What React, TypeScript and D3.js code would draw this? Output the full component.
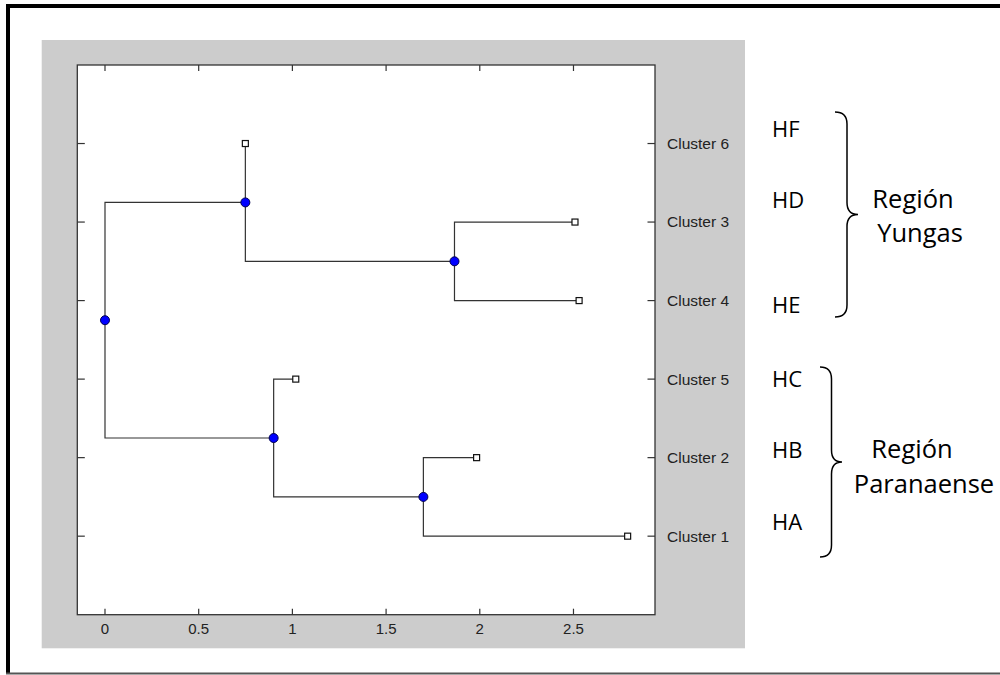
import React from "react";
import * as d3 from "d3";

// ---- data ----
const leafLabels = ["Cluster 6", "Cluster 3", "Cluster 4", "Cluster 5", "Cluster 2", "Cluster 1"];
const leafHeights = [0.749, 2.508, 2.53, 1.018, 1.983, 2.789];
const nodeNames = ["root", "A", "B", "N34", "N21"];
const nodeHeights = [0, 0.749, 0.9, 1.865, 1.699];
const nodeChildren = [
  ["A", "B"],
  ["Cluster 6", "N34"],
  ["Cluster 5", "N21"],
  ["Cluster 3", "Cluster 4"],
  ["Cluster 2", "Cluster 1"],
];
const xTicks = [0, 0.5, 1, 1.5, 2, 2.5];
const codeLabels = ["HF", "HD", "HE", "HC", "HB", "HA"];
const regionLines = [
  ["Región", "Yungas"],
  ["Región", "Paranaense"],
];

// ---- layout ----
const W = 1000;
const H = 675;
const plot = { x0: 77.3, x1: 655, y0: 65, y1: 614.7 };
const codeY = [136.7, 208.3, 313.3, 387.3, 458.3, 530];
const braces = [
  { top: 112, bottom: 317, x0: 835, xs: 847, xt: 858 },
  { top: 367, bottom: 557, x0: 820, xs: 831.5, xt: 842 },
];
const regionPos = [
  { x: [913, 920], y: [208.3, 241.7] },
  { x: [912, 924], y: [458.3, 493.3] },
];

type TreeNode = { name: string; height: number; children?: TreeNode[] };

function buildTree(name: string): TreeNode {
  const ni = nodeNames.indexOf(name);
  if (ni >= 0) {
    return { name, height: nodeHeights[ni], children: nodeChildren[ni].map(buildTree) };
  }
  return { name, height: leafHeights[leafLabels.indexOf(name)] };
}

export default function App() {
  const x = d3.scaleLinear().domain([-0.1478, 2.935]).range([plot.x0, plot.x1]);
  const y = d3.scaleLinear().domain([0, 7]).range([plot.y0, plot.y1]);

  const root = d3.hierarchy<TreeNode>(buildTree("root"));
  const pos = new Map<any, { px: number; py: number }>();
  root.eachAfter((n) => {
    const px = x(n.data.height);
    let py: number;
    if (!n.children) py = y(leafLabels.indexOf(n.data.name) + 1);
    else py = d3.mean(n.children, (c) => pos.get(c)!.py)!;
    pos.set(n, { px, py });
  });

  const links = root.links();
  const lineColor = "#333";

  const bracePath = (b: { top: number; bottom: number; x0: number; xs: number; xt: number }) => {
    const mid = (b.top + b.bottom) / 2;
    const r = 12;
    return `M${b.x0},${b.top} Q${b.xs},${b.top} ${b.xs},${b.top + r} L${b.xs},${mid - r} Q${b.xs},${mid} ${b.xt},${mid} Q${b.xs},${mid} ${b.xs},${mid + r} L${b.xs},${b.bottom - r} Q${b.xs},${b.bottom} ${b.x0},${b.bottom}`;
  };

  return (
    <svg
      width={W}
      height={H}
      viewBox={`0 0 ${W} ${H}`}
      style={{ position: "absolute", left: 0, top: 0, background: "#fff" }}
    >
      {/* outer frame */}
      <line x1={8} y1={6} x2={W} y2={6} stroke="#000" strokeWidth={4} />
      <line x1={8} y1={4} x2={8} y2={674} stroke="#000" strokeWidth={4} />
      <line x1={6} y1={673.5} x2={W} y2={673.5} stroke="#555" strokeWidth={2} />

      {/* gray panel */}
      <rect x={41.7} y={40} width={745 - 41.7} height={648.3 - 40} fill="#cccccc" />
      {/* plot area */}
      <rect
        x={plot.x0}
        y={plot.y0}
        width={plot.x1 - plot.x0}
        height={plot.y1 - plot.y0}
        fill="#fff"
        stroke="#333"
        strokeWidth={1.3}
      />

      {/* x ticks */}
      {xTicks.map((t) => (
        <g key={"xt" + t}>
          <line x1={x(t)} x2={x(t)} y1={plot.y1} y2={plot.y1 - 6} stroke="#333" strokeWidth={1.2} />
          <line x1={x(t)} x2={x(t)} y1={plot.y0} y2={plot.y0 + 6} stroke="#333" strokeWidth={1.2} />
          <text
            x={x(t)}
            y={634.3}
            textAnchor="middle"
            fontFamily="'Liberation Sans', Arial, sans-serif"
            fontSize={15}
            fill="#222"
          >
            {String(t)}
          </text>
        </g>
      ))}

      {/* y ticks + cluster labels */}
      {leafLabels.map((lab, i) => (
        <g key={lab}>
          <line x1={plot.x0} x2={plot.x0 + 7.5} y1={y(i + 1)} y2={y(i + 1)} stroke="#333" strokeWidth={1.2} />
          <line x1={plot.x1} x2={plot.x1 - 7.5} y1={y(i + 1)} y2={y(i + 1)} stroke="#333" strokeWidth={1.2} />
          <text
            x={667}
            y={y(i + 1)}
            dy="0.35em"
            fontFamily="'Liberation Sans', Arial, sans-serif"
            fontSize={15.5}
            fill="#222"
          >
            {lab}
          </text>
        </g>
      ))}

      {/* dendrogram links */}
      {links.map((l, i) => {
        const s = pos.get(l.source)!;
        const t = pos.get(l.target)!;
        return (
          <path
            key={"l" + i}
            d={`M${s.px},${s.py} V${t.py} H${t.px}`}
            fill="none"
            stroke={lineColor}
            strokeWidth={1.2}
          />
        );
      })}

      {/* leaf markers */}
      {root.leaves().map((n) => {
        const p = pos.get(n)!;
        return (
          <rect
            key={"sq" + n.data.name}
            x={p.px - 3}
            y={p.py - 3}
            width={6}
            height={6}
            fill="#fff"
            stroke="#111"
            strokeWidth={1.2}
          />
        );
      })}

      {/* internal nodes */}
      {root.descendants().filter((n) => n.children).map((n) => {
        const p = pos.get(n)!;
        return (
          <circle key={"c" + n.data.name} cx={p.px} cy={p.py} r={4.5} fill="#0000ff" stroke="#000050" strokeWidth={1} />
        );
      })}

      {/* annotations */}
      {codeLabels.map((c, i) => (
        <text
          key={c}
          x={772}
          y={codeY[i]}
          fontFamily="'Open Sans', sans-serif"
          fontSize={22}
          fill="#000"
        >
          {c}
        </text>
      ))}
      {braces.map((b, i) => (
        <path key={"br" + i} d={bracePath(b)} fill="none" stroke="#000" strokeWidth={1.5} />
      ))}
      {regionLines.map((lines, gi) =>
        lines.map((t, li) => (
          <text
            key={gi + "-" + li}
            x={regionPos[gi].x[li]}
            y={regionPos[gi].y[li]}
            textAnchor="middle"
            fontFamily="'Open Sans', sans-serif"
            fontSize={25.5}
            fill="#000"
          >
            {t}
          </text>
        ))
      )}
    </svg>
  );
}
